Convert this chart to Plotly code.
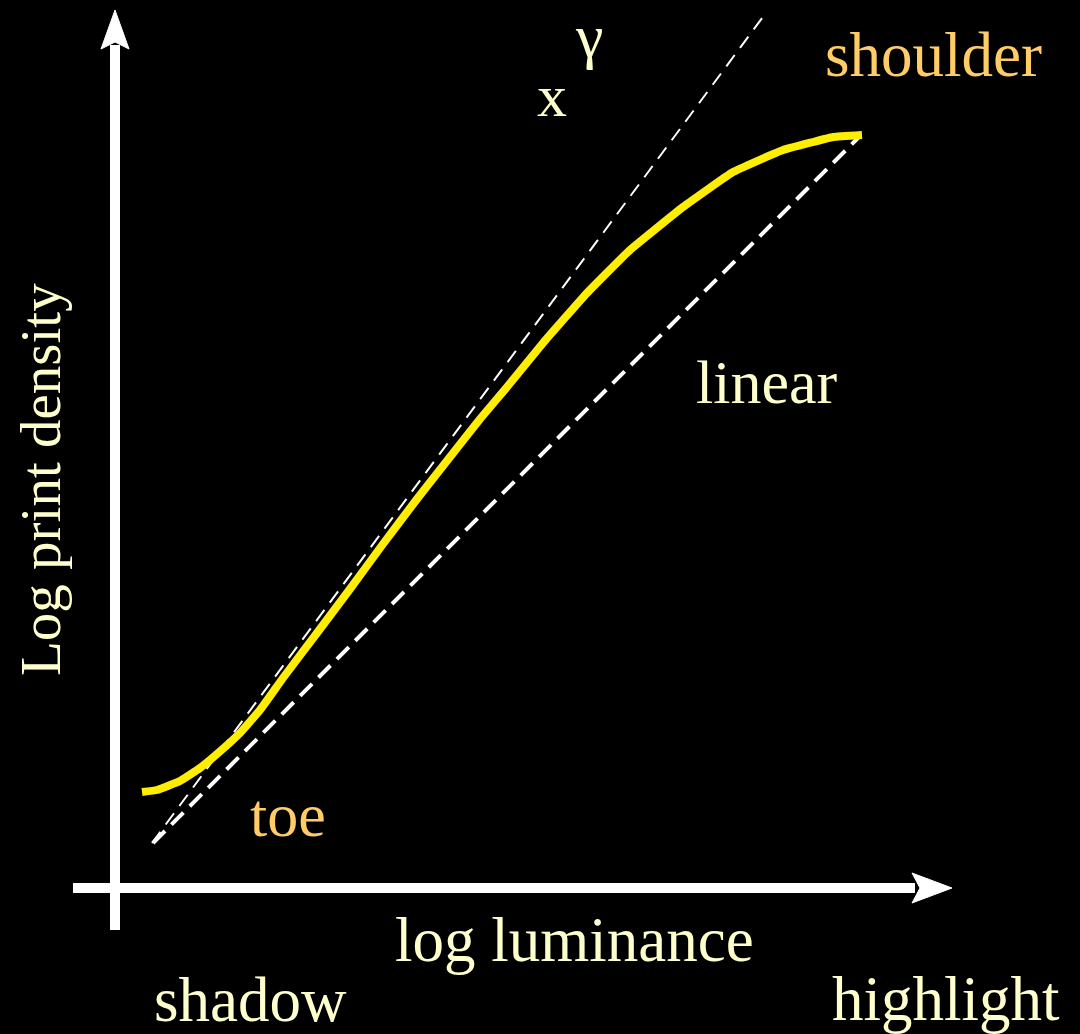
import plotly.graph_objects as go

# Characteristic (H&D) curve: log luminance vs log print density
log_lum = [0.27, 0.42, 0.65, 0.85, 1.02, 1.25, 1.45, 1.68, 2.02, 2.35, 2.68, 3.02,
           3.35, 3.65, 3.92, 4.28, 4.72, 5.15, 5.68, 6.18, 6.68, 6.98, 7.18, 7.47]
log_density = [0.96, 0.98, 1.07, 1.20, 1.34, 1.55, 1.78, 2.10, 2.55, 2.99, 3.44, 3.89,
               4.31, 4.69, 5.01, 5.45, 5.95, 6.38, 6.81, 7.16, 7.38, 7.46, 7.51, 7.53]

# reference lines
linear_x = [0.38, 7.43]
linear_y = [0.45, 7.50]
gamma_x = [0.37, 6.50]
gamma_y = [0.45, 8.74]

CREAM = "#FFFFCC"
ORANGE = "#FFCC66"
FONT = "Liberation Serif"

fig = go.Figure()
fig.add_trace(go.Scatter(x=gamma_x, y=gamma_y, mode="lines",
                         line=dict(color="white", width=2, dash="14px,9px"),
                         hoverinfo="skip"))
fig.add_trace(go.Scatter(x=linear_x, y=linear_y, mode="lines",
                         line=dict(color="white", width=4, dash="17px,9px"),
                         hoverinfo="skip"))
fig.add_trace(go.Scatter(x=log_lum, y=log_density, mode="lines",
                         line=dict(color="#FFEE00", width=8, shape="spline", smoothing=0.3),
                         hoverinfo="skip"))

shapes = [
    dict(type="line", xref="x", yref="y", x0=0, x1=0, y0=-0.42, y1=8.43,
         line=dict(color="white", width=10)),
    dict(type="path", xref="x", yref="y",
         path="M 0 8.78 L -0.14 8.39 L 0 8.46 L 0.14 8.39 Z",
         fillcolor="white", line=dict(color="white", width=1)),
    dict(type="line", xref="x", yref="y", x0=-0.42, x1=8.00, y0=0, y1=0,
         line=dict(color="white", width=10)),
    dict(type="path", xref="x", yref="y",
         path="M 8.37 0 L 7.97 0.15 L 8.05 0 L 7.97 -0.15 Z",
         fillcolor="white", line=dict(color="white", width=1)),
]

def ann(text, x, y, color, size, angle=0):
    return dict(text=text, x=x, y=y, xref="x", yref="y", showarrow=False,
                xanchor="center", yanchor="middle", textangle=angle,
                font=dict(family=FONT, size=size, color=color))

annotations = [
    ann("shoulder", 8.18, 8.33, ORANGE, 63),
    ann("x", 4.37, 7.92, CREAM, 60),
    ann("γ", 4.74, 8.52, CREAM, 62),
    ann("linear", 6.51, 5.06, CREAM, 62),
    ann("toe", 1.73, 0.73, ORANGE, 62),
    ann("log luminance", 4.59, -0.52, CREAM, 63),
    ann("shadow", 1.35, -1.12, CREAM, 63),
    ann("highlight", 8.31, -1.11, CREAM, 63),
    ann("Log print density", -0.75, 4.08, CREAM, 57, angle=-90),
]

fig.update_layout(
    width=1080, height=1034,
    margin=dict(l=0, r=0, t=0, b=0),
    paper_bgcolor="black", plot_bgcolor="black",
    showlegend=False,
    xaxis=dict(range=[-1.15, 9.65], visible=False, fixedrange=True),
    yaxis=dict(range=[-1.46, 8.88], visible=False, fixedrange=True),
    shapes=shapes, annotations=annotations,
)

fig.write_html("out.html", post_script="document.body.style.margin='0';document.body.style.background='black';",
               config={"displayModeBar": False})
